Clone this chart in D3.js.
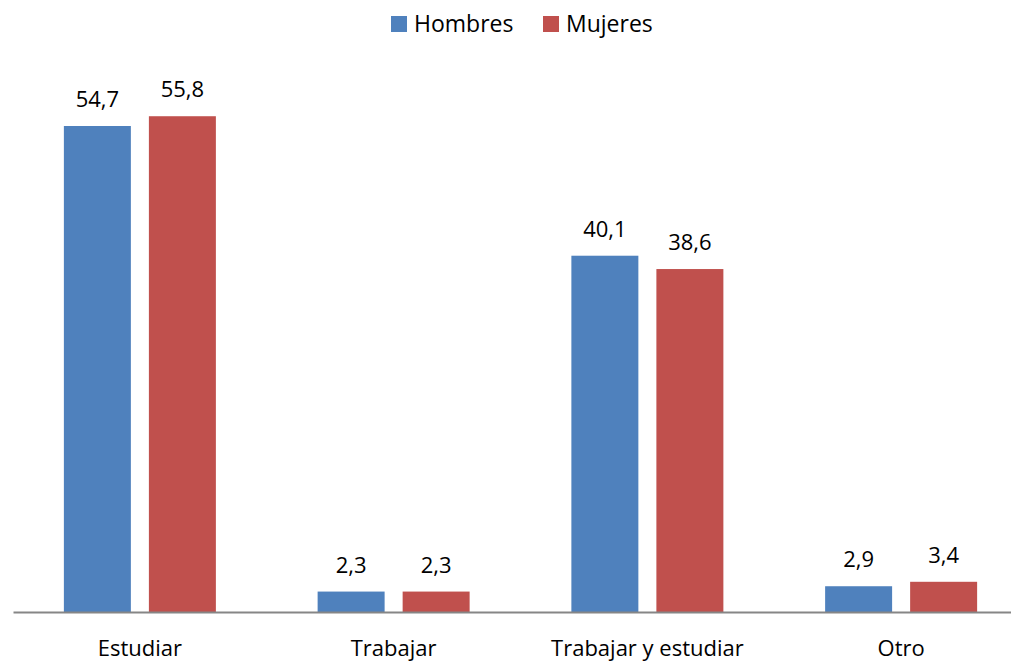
<!DOCTYPE html>
<html>
<head>
<meta charset="utf-8">
<script src="https://cdn.jsdelivr.net/npm/d3@7"></script>
<style>
  body { margin: 0; background: #fff; }
  svg text { font-family: "Open Sans", "Noto Sans", sans-serif; fill: #000; }
</style>
</head>
<body>
<svg id="chart" width="1011" height="661"></svg>
<script>
// data
let categories = ["Estudiar", "Trabajar", "Trabajar y estudiar", "Otro"];
let seriesNames = ["Hombres", "Mujeres"];
let hombres = [54.7, 2.3, 40.1, 2.9];
let mujeres = [55.8, 2.3, 38.6, 3.4];
let colors = ["#4F81BD", "#C0504D"];

let width = 1011;
let height = 661;
let svg = d3.select("#chart");

let x0 = d3.scaleBand().domain(categories).range([13, 1028]).padding(0);
let inner = 152;
let x1 = d3.scaleBand().domain(seriesNames).range([0, inner]).paddingInner(0.212).paddingOuter(0);
let y = d3.scaleLinear().domain([0, 54.7]).range([612, 126]);

let rows = categories.map((c, i) => ({cat: c, vals: [hombres[i], mujeres[i]]}));
let fmt = v => v.toFixed(1).replace(".", ",");

let groups = svg.selectAll(".grp")
  .data(rows)
  .enter()
  .append("g")
  .attr("class", "grp")
  .attr("transform", d => "translate(" + (x0(d.cat) + (x0.bandwidth() - inner) / 2) + ",0)");

groups.selectAll("rect")
  .data(d => d.vals.map((v, j) => ({s: seriesNames[j], v: v, j: j})))
  .enter()
  .append("rect")
  .attr("x", d => x1(d.s))
  .attr("y", d => y(d.v))
  .attr("width", x1.bandwidth())
  .attr("height", d => y(0) - y(d.v))
  .style("fill", d => colors[d.j]);

groups.selectAll(".val")
  .data(d => d.vals.map((v, j) => ({s: seriesNames[j], v: v})))
  .enter()
  .append("text")
  .attr("class", "val")
  .attr("x", d => x1(d.s) + x1.bandwidth() / 2)
  .attr("y", d => y(d.v) - 19)
  .attr("text-anchor", "middle")
  .style("font-size", "22px")
  .text(d => fmt(d.v));

// axis
let xAxis = d3.axisBottom(x0).tickSize(0).tickPadding(0);
let ax = svg.append("g").attr("transform", "translate(0,612)").call(xAxis);
ax.select(".domain").attr("stroke", "#868686").attr("stroke-width", 2);
ax.selectAll(".tick text")
  .attr("dy", null)
  .attr("y", 44)
  .style("font-size", "22px")
  .style("font-family", "'Open Sans', 'Noto Sans', sans-serif")
  .attr("fill", "#000");

// legend
let legendX = [391, 543];
let legend = svg.selectAll(".leg")
  .data(seriesNames)
  .enter()
  .append("g")
  .attr("class", "leg")
  .attr("transform", (d, i) => "translate(" + legendX[i] + ",0)");
legend.append("rect").attr("x", 0).attr("y", 16).attr("width", 16).attr("height", 16)
  .style("fill", (d, i) => colors[i]);
legend.append("text").attr("x", 23).attr("y", 32).style("font-size", "23px").text(d => d);
</script>
</body>
</html>
